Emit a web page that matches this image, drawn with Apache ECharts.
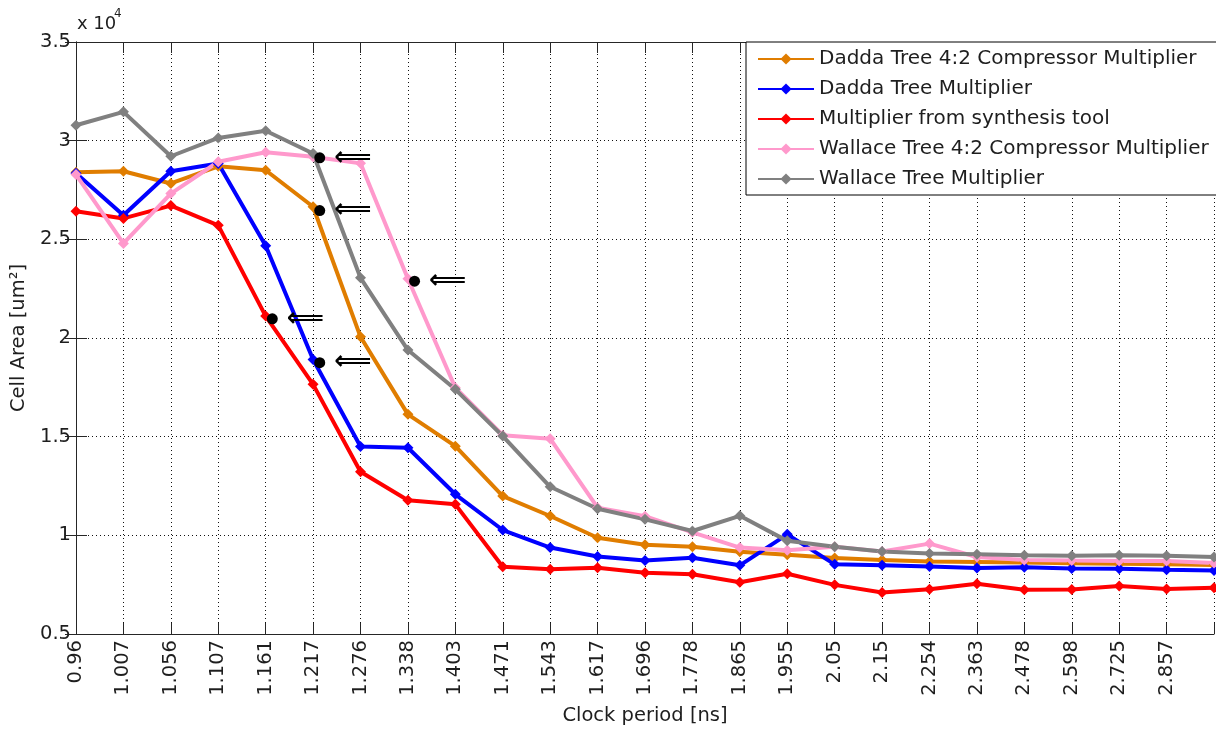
<!DOCTYPE html>
<html>
<head>
<meta charset="utf-8">
<script src="https://cdn.jsdelivr.net/npm/echarts@6/dist/echarts.min.js"></script>
<style>
html,body{margin:0;padding:0;background:#fff;}
#chart{width:1216px;height:731px;}
</style>
</head>
<body>
<div id="chart"></div>
<script>
// Clock period tick labels (25th point sits on the right border, unlabeled)
const categories = ['0.96','1.007','1.056','1.107','1.161','1.217','1.276','1.338','1.403','1.471','1.543','1.617','1.696','1.778','1.865','1.955','2.05','2.15','2.254','2.363','2.478','2.598','2.725','2.857'];

// Cell area values (um^2)
const daddaCompressor = [28400,28450,27830,28700,28500,26650,20060,16130,14520,11990,10980,9880,9520,9420,9170,9020,8850,8750,8680,8650,8620,8580,8560,8530,8500];
const daddaTree       = [28350,26220,28450,28840,24680,18910,14500,14440,12080,10270,9380,8930,8730,8860,8480,10050,8530,8480,8420,8350,8380,8320,8310,8260,8220];
const synthesisTool   = [26420,26060,26710,25710,21110,17650,13220,11780,11570,8410,8280,8360,8100,8030,7620,8050,7490,7100,7270,7550,7240,7260,7430,7280,7350];
const wallaceCompressor = [28280,24790,27320,28930,29410,29180,28850,23000,17480,15070,14900,11400,10970,10150,9380,9250,9420,9180,9580,8900,8750,8720,8700,8700,8600];
const wallaceTree     = [30780,31460,29210,30140,30500,29350,23050,19390,17400,15030,12460,11350,10810,10220,10990,9720,9420,9180,9080,9040,8990,8970,8990,8960,8900];

const seriesNames = ['Dadda Tree 4:2 Compressor Multiplier','Dadda Tree Multiplier','Multiplier from synthesis tool','Wallace Tree 4:2 Compressor Multiplier','Wallace Tree Multiplier'];
const seriesColors = ['#E07D00','#0000FF','#FF0000','#FF99CC','#808080'];

// Annotation dots (x in category-index units, y in um^2)
const annotX = [5.14, 5.14, 7.14, 4.14, 5.14];
const annotY = [29130, 26460, 22880, 20970, 18750];

const yTicks = {min: 5000, max: 35000, interval: 5000};

const FONT = '"DejaVu Sans", Verdana, sans-serif';
const TXT = '#1e1e1e';
const FS = 19.5;

const allData = [daddaCompressor, daddaTree, synthesisTool, wallaceCompressor, wallaceTree];
const lineSeries = allData.map((arr, k) => ({
  name: seriesNames[k],
  type: 'line',
  data: arr.map((v, i) => [i, v]),
  symbol: 'diamond',
  symbolSize: 11,
  lineStyle: {width: 4, color: seriesColors[k]},
  itemStyle: {color: seriesColors[k]},
  animation: false,
  z: 3
}));

const annotSeries = {
  name: 'annot',
  type: 'scatter',
  data: annotX.map((x, i) => [x, annotY[i]]),
  symbol: 'circle',
  symbolSize: 11,
  itemStyle: {color: '#000', opacity: 1},
  label: {
    show: true,
    position: 'right',
    distance: 9,
    formatter: '\u27F8',
    fontFamily: '"DejaVu Sans", sans-serif',
    fontWeight: 'bold',
    fontSize: 26,
    color: '#000'
  },
  animation: false,
  z: 5
};

const chart = echarts.init(document.getElementById('chart'), null, {renderer: 'canvas'});
chart.setOption({
  backgroundColor: '#fff',
  animation: false,
  textStyle: {fontFamily: FONT, color: TXT},
  grid: {left: 76, right: 2, top: 42, bottom: 96, containLabel: false},
  graphic: [
    {type: 'text', left: 77, top: 15, style: {text: 'x 10', font: '18px ' + FONT, fill: TXT}},
    {type: 'text', left: 114, top: 8, style: {text: '4', font: '12px ' + FONT, fill: TXT}}
  ],
  legend: {
    data: seriesNames,
    orient: 'vertical',
    left: 746,
    top: 42,
    padding: [7, 8, 6, 11],
    itemWidth: 56,
    itemHeight: 14,
    itemGap: 10,
    backgroundColor: '#fff',
    borderColor: '#000',
    borderWidth: 1,
    textStyle: {fontFamily: FONT, fontSize: 20, color: TXT, lineHeight: 20}
  },
  xAxis: [{
    type: 'value',
    min: 0, max: 24, interval: 1,
    name: 'Clock period [ns]',
    nameLocation: 'middle',
    nameGap: 72,
    nameTextStyle: {fontFamily: FONT, fontSize: FS, color: TXT},
    axisLine: {show: true, lineStyle: {color: '#262626', width: 1}},
    axisTick: {show: true, inside: true, length: 11, lineStyle: {color: '#262626'}},
    axisLabel: {
      rotate: 90, margin: 6, fontFamily: FONT, fontSize: FS, color: TXT,
      formatter: v => (categories[v] !== undefined ? categories[v] : '')
    },
    splitLine: {show: true, lineStyle: {type: [1, 3], color: '#111', width: 1}}
  }, {
    type: 'value', position: 'top',
    min: 0, max: 24, interval: 1,
    axisLine: {show: true, lineStyle: {color: '#262626', width: 1}},
    axisTick: {show: true, inside: true, length: 11, lineStyle: {color: '#262626'}},
    axisLabel: {show: false},
    splitLine: {show: false}
  }],
  yAxis: [{
    type: 'value',
    min: yTicks.min, max: yTicks.max, interval: yTicks.interval,
    name: 'Cell Area [um\u00B2]',
    nameLocation: 'middle',
    nameGap: 40,
    nameTextStyle: {fontFamily: FONT, fontSize: FS, color: TXT},
    axisLine: {show: true, lineStyle: {color: '#262626', width: 1}},
    axisTick: {show: true, inside: true, length: 11, lineStyle: {color: '#262626'}},
    axisLabel: {margin: 5, fontFamily: FONT, fontSize: FS, color: TXT, formatter: v => String(v / 10000)},
    splitLine: {show: true, lineStyle: {type: [1, 3], color: '#111', width: 1}}
  }, {
    type: 'value', position: 'right',
    min: yTicks.min, max: yTicks.max, interval: yTicks.interval,
    axisLine: {show: true, lineStyle: {color: '#262626', width: 1}},
    axisTick: {show: true, inside: true, length: 11, lineStyle: {color: '#262626'}},
    axisLabel: {show: false},
    splitLine: {show: false}
  }],
  series: lineSeries.concat([annotSeries])
});
</script>
</body>
</html>
